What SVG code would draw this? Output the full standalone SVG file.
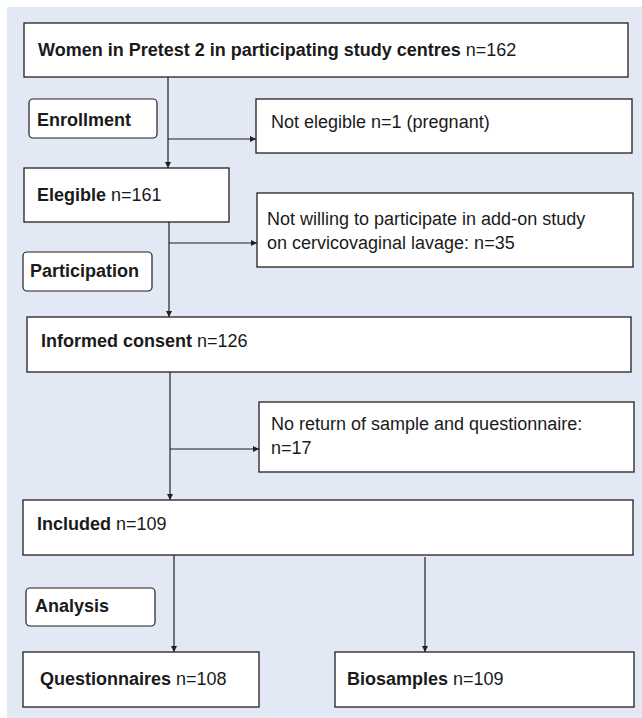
<svg xmlns="http://www.w3.org/2000/svg" width="642" height="718" viewBox="0 0 642 718">
<style>
.bx{fill:#ffffff;stroke:#231f20;stroke-width:1.3}
.lb{fill:#ffffff;stroke:#231f20;stroke-width:1.2}
.t{font-family:"Liberation Sans",Arial,sans-serif;font-size:18px;fill:#1a1a1a}
.b{font-weight:bold}
.c{fill:none;stroke:#231f20;stroke-width:1.2}
</style>
<defs>
<marker id="ah" viewBox="0 0 10 10" refX="10" refY="5" markerWidth="6" markerHeight="6" markerUnits="userSpaceOnUse" orient="auto">
<path d="M0,0 L10,5 L0,10 Z" fill="#231f20"/>
</marker>
</defs>
<rect x="7" y="7" width="635" height="711" fill="#e3e9f4"/>
<g id="connectors">
<line class="c" x1="168" y1="77" x2="168" y2="168" marker-end="url(#ah)"/>
<line class="c" x1="168" y1="139" x2="256" y2="139" marker-end="url(#ah)"/>
<line class="c" x1="169" y1="222" x2="169" y2="317" marker-end="url(#ah)"/>
<line class="c" x1="169" y1="243" x2="257" y2="243" marker-end="url(#ah)"/>
<line class="c" x1="170" y1="372" x2="170" y2="500" marker-end="url(#ah)"/>
<line class="c" x1="170" y1="449" x2="259" y2="449" marker-end="url(#ah)"/>
<line class="c" x1="174" y1="555" x2="174" y2="652" marker-end="url(#ah)"/>
<line class="c" x1="425" y1="557" x2="425" y2="652" marker-end="url(#ah)"/>
</g>
<g id="women">
<rect class="bx" x="24" y="23" width="604" height="54"/>
<text class="t" x="38" y="56"><tspan class="b">Women in Pretest 2 in participating study centres</tspan> n=162</text>
</g>
<g id="enrollment">
<rect class="lb" x="29" y="99" width="128" height="39" rx="4"/>
<text class="t b" x="37" y="126">Enrollment</text>
</g>
<g id="not-elegible">
<rect class="bx" x="256" y="99" width="376" height="54"/>
<text class="t" x="271" y="128">Not elegible n=1 (pregnant)</text>
</g>
<g id="elegible">
<rect class="bx" x="24" y="168" width="205" height="54"/>
<text class="t" x="37" y="201"><tspan class="b">Elegible</tspan> n=161</text>
</g>
<g id="not-willing">
<rect class="bx" x="257" y="193" width="376" height="74"/>
<text class="t" x="267" y="225">Not willing to participate in add-on study</text>
<text class="t" x="267" y="249">on cervicovaginal lavage: n=35</text>
</g>
<g id="participation">
<rect class="lb" x="23" y="252" width="129" height="39" rx="4"/>
<text class="t b" x="30" y="277">Participation</text>
</g>
<g id="informed-consent">
<rect class="bx" x="27" y="317" width="604" height="55"/>
<text class="t" x="41" y="347"><tspan class="b">Informed consent</tspan> n=126</text>
</g>
<g id="no-return">
<rect class="bx" x="259" y="402" width="375" height="70"/>
<text class="t" x="271" y="430">No return of sample and questionnaire:</text>
<text class="t" x="271" y="454">n=17</text>
</g>
<g id="included">
<rect class="bx" x="23" y="500" width="610" height="55"/>
<text class="t" x="37" y="530"><tspan class="b">Included</tspan> n=109</text>
</g>
<g id="analysis">
<rect class="lb" x="26" y="588" width="129" height="38" rx="4"/>
<text class="t b" x="35" y="612">Analysis</text>
</g>
<g id="questionnaires">
<rect class="bx" x="23" y="652" width="236" height="55"/>
<text class="t" x="40" y="685"><tspan class="b">Questionnaires</tspan> n=108</text>
</g>
<g id="biosamples">
<rect class="bx" x="335" y="652" width="299" height="55"/>
<text class="t" x="347" y="685"><tspan class="b">Biosamples</tspan> n=109</text>
</g>
</svg>
